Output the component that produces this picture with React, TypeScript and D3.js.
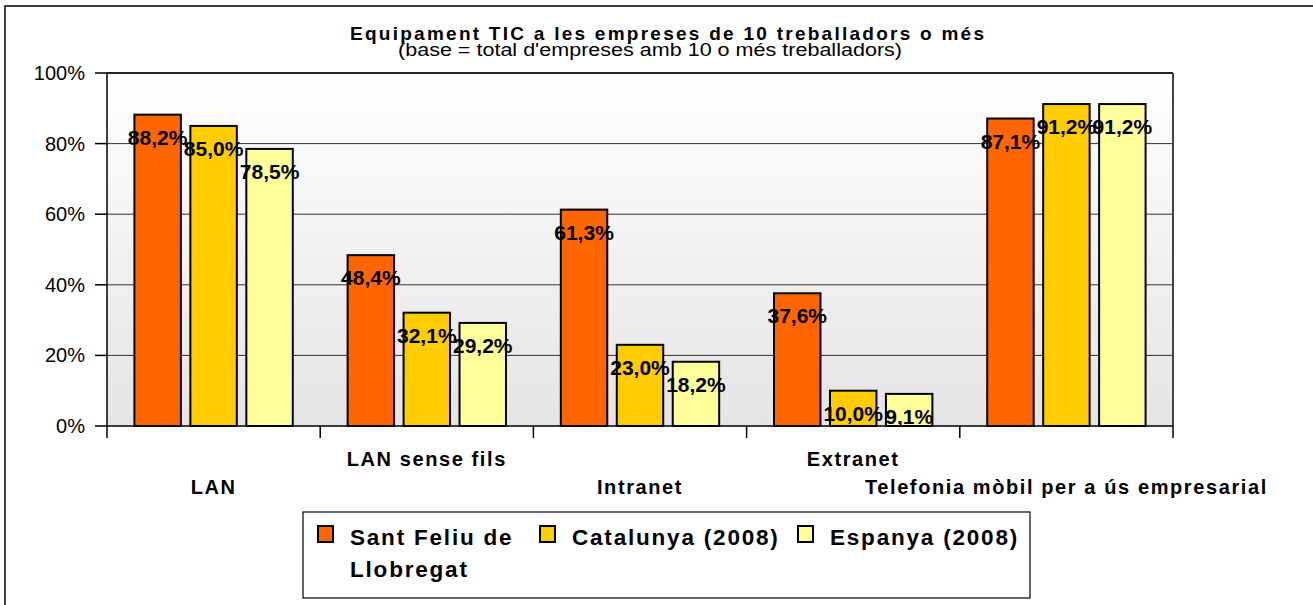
import React from "react";
import * as d3 from "d3";

const categories = ["LAN", "LAN sense fils", "Intranet", "Extranet", "Telefonia mòbil per a ús empresarial"];
const seriesNames = ["Sant Feliu de Llobregat", "Catalunya (2008)", "Espanya (2008)"];
const santFeliu = [88.2, 48.4, 61.3, 37.6, 87.1];
const catalunya = [85.0, 32.1, 23.0, 10.0, 91.2];
const espanya = [78.5, 29.2, 18.2, 9.1, 91.2];
const yTicks = [0, 20, 40, 60, 80, 100];
const colors = ["#FF6600", "#FFCC00", "#FFFF99"];

const title = "Equipament TIC a les empreses de 10 treballadors o més";
const subtitle = "(base = total d'empreses amb 10 o més treballadors)";

const FONT = "'Liberation Sans', Arial, Helvetica, sans-serif";
const W = 1313;
const H = 605;
const plot = { left: 107, right: 1173, top: 73, bottom: 426 };

const fmt = (v: number) => v.toFixed(1).replace(".", ",") + "%";

export default function App() {
  const values = [santFeliu, catalunya, espanya];
  const x0 = d3.scaleBand<string>().domain(categories).range([plot.left, plot.right]).padding(0);
  const x1 = d3
    .scaleBand<string>()
    .domain(seriesNames)
    .range([0, x0.bandwidth()])
    .paddingInner(0.17)
    .paddingOuter(0.49);
  const y = d3.scaleLinear().domain([0, 100]).range([plot.bottom, plot.top]);

  const boundaries = categories.map((c) => x0(c) as number).concat([plot.right]);

  // legend entries laid out left to right
  const legendX = [318, 540, 798];

  return (
    <svg
      width={W}
      height={H}
      style={{ position: "fixed", left: 0, top: 0, background: "#fff" }}
      fontFamily={FONT}
    >
      <defs>
        <linearGradient id="plotBg" x1="0" y1="0" x2="0" y2="1">
          <stop offset="0" stopColor="#ffffff" />
          <stop offset="1" stopColor="#e4e4e4" />
        </linearGradient>
      </defs>

      {/* outer chart frame */}
      <rect x={5} y={6} width={W + 20} height={H + 20} fill="none" stroke="#000" strokeWidth={1.5} />

      {/* titles */}
      <text x={667} y={40} textAnchor="middle" fontWeight="bold" fontSize={19} textLength={634} lengthAdjust="spacing">
        {title}
      </text>
      <text x={650} y={56} textAnchor="middle" fontSize={17.5} textLength={504} lengthAdjust="spacingAndGlyphs">
        {subtitle}
      </text>

      {/* plot area */}
      <rect
        x={plot.left}
        y={plot.top}
        width={plot.right - plot.left}
        height={plot.bottom - plot.top}
        fill="url(#plotBg)"
      />
      {yTicks.slice(1).map((t) => (
        <line key={t} x1={plot.left} x2={plot.right} y1={y(t)} y2={y(t)} stroke="#333" strokeWidth={1} />
      ))}
      <line x1={plot.left} x2={plot.right} y1={plot.top} y2={plot.top} stroke="#222" strokeWidth={2} />
      <line x1={plot.right} x2={plot.right} y1={plot.top} y2={plot.bottom} stroke="#444" strokeWidth={2} />

      {/* y axis */}
      <line x1={plot.left} x2={plot.left} y1={plot.top} y2={plot.bottom} stroke="#000" strokeWidth={1.5} />
      {yTicks.map((t) => (
        <g key={t}>
          <line x1={plot.left - 12} x2={plot.left} y1={y(t)} y2={y(t)} stroke="#000" strokeWidth={1.5} />
          <text x={85} y={y(t)} dy="0.35em" textAnchor="end" fontSize={20}>
            {t}%
          </text>
        </g>
      ))}

      {/* x axis */}
      <line x1={plot.left} x2={plot.right} y1={plot.bottom} y2={plot.bottom} stroke="#000" strokeWidth={1.5} />
      {boundaries.map((bx, i) => (
        <line key={i} x1={bx} x2={bx} y1={plot.bottom} y2={plot.bottom + 12} stroke="#000" strokeWidth={1.5} />
      ))}
      {categories.map((c, i) => (
        <text
          key={c}
          x={(x0(c) as number) + x0.bandwidth() / 2}
          y={i % 2 === 0 ? 494 : 466}
          textAnchor="middle"
          fontWeight="bold"
          fontSize={20}
          letterSpacing={1.6}
        >
          {c}
        </text>
      ))}

      {/* bars */}
      {categories.map((c, ci) => (
        <g key={c} transform={`translate(${x0(c)},0)`}>
          {seriesNames.map((s, si) => {
            const v = values[si][ci];
            return (
              <rect
                key={s}
                x={x1(s)}
                y={y(v)}
                width={x1.bandwidth()}
                height={plot.bottom - y(v)}
                fill={colors[si]}
                stroke="#000"
                strokeWidth={2}
              />
            );
          })}
        </g>
      ))}

      {/* data labels */}
      {categories.map((c, ci) =>
        seriesNames.map((s, si) => {
          const v = values[si][ci];
          return (
            <text
              key={c + s}
              x={(x0(c) as number) + (x1(s) as number) + x1.bandwidth() / 2}
              y={y(v) + 30}
              textAnchor="middle"
              fontWeight="bold"
              fontSize={21}
            >
              {fmt(v)}
            </text>
          );
        })
      )}

      {/* legend */}
      <rect x={303} y={512} width={727} height={86} fill="#fff" stroke="#000" strokeWidth={1.2} />
      {seriesNames.map((s, i) => {
        const lines = i === 0 ? ["Sant Feliu de", "Llobregat"] : [s];
        return (
          <g key={s} transform={`translate(${legendX[i]},0)`}>
            <rect x={0} y={526} width={15} height={16} fill={colors[i]} stroke="#000" strokeWidth={2} />
            {lines.map((ln, li) => (
              <text key={li} x={32} y={545 + li * 32} fontWeight="bold" fontSize={22.5} letterSpacing={1.8}>
                {ln}
              </text>
            ))}
          </g>
        );
      })}
    </svg>
  );
}
